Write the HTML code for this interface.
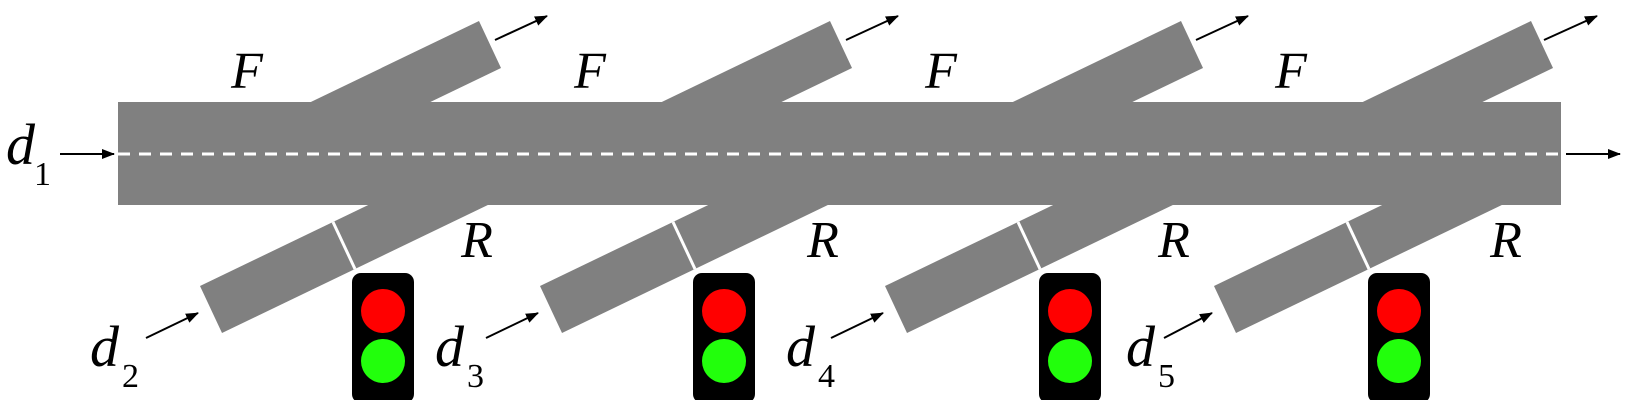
<!DOCTYPE html>
<html><head><style>body{margin:0;background:#fff}svg{display:block}
.t{font-family:"Liberation Serif","DejaVu Serif",serif}</style></head>
<body>
<svg width="1633" height="400" viewBox="0 0 1633 400" xmlns="http://www.w3.org/2000/svg">
<defs>
<marker id="ah" markerWidth="13" markerHeight="10" refX="12" refY="5" orient="auto" markerUnits="userSpaceOnUse">
<path d="M0,0 L13,5 L0,10 z" fill="#000"/></marker>
<g id="up"><polygon points="479,21 501,68 231,198 209,151" fill="#808080"/></g>
<g id="lo"><polygon points="200,286 222,333 492,203 470,156" fill="#808080"/>
<line x1="333" y1="222" x2="355" y2="269" stroke="#fff" stroke-width="3"/></g>
<g id="tl"><rect x="0" y="273" width="62" height="130" rx="9" fill="#000"/>
<circle cx="31" cy="311" r="22" fill="#ff0000"/><circle cx="31" cy="361" r="22" fill="#22ff0c"/></g>
</defs>
<use href="#up"/><use href="#up" x="351"/><use href="#up" x="702"/><use href="#up" x="1052"/>
<use href="#lo"/><use href="#lo" x="340"/><use href="#lo" x="685"/><use href="#lo" x="1014"/>
<rect x="118" y="102" width="1443" height="103" fill="#808080"/>
<line x1="118" y1="154" x2="1561" y2="154" stroke="#fff" stroke-width="3" stroke-dasharray="12,9"/>
<use href="#tl" x="352"/><use href="#tl" x="693"/><use href="#tl" x="1039"/><use href="#tl" x="1368"/>
<g stroke="#000" stroke-width="2" marker-end="url(#ah)">
<line x1="60" y1="154" x2="114" y2="154"/>
<line x1="1566" y1="154" x2="1620" y2="154"/>
<line x1="495" y1="40" x2="547" y2="16"/><line x1="846" y1="40" x2="898" y2="16"/>
<line x1="1196" y1="40" x2="1248" y2="16"/><line x1="1544" y1="40" x2="1597" y2="16"/>
<line x1="146" y1="338" x2="198" y2="313"/><line x1="486" y1="338" x2="538" y2="313"/>
<line x1="831" y1="338" x2="883" y2="313"/><line x1="1164" y1="338" x2="1212" y2="313"/>
</g>
<g class="t" font-style="italic" font-size="52" text-anchor="middle" fill="#000">
<text x="247" y="88">F</text><text x="590" y="88">F</text><text x="941" y="88">F</text><text x="1291" y="88">F</text>
<text x="477" y="257">R</text><text x="823" y="257">R</text><text x="1174" y="257">R</text><text x="1506" y="257">R</text>
</g>
<g class="t" font-size="58" fill="#000">
<text x="6" y="164" font-style="italic">d</text><text x="34" y="185" font-size="34">1</text>
<text x="90" y="366" font-style="italic">d</text><text x="122" y="387" font-size="34">2</text>
<text x="435" y="366" font-style="italic">d</text><text x="467" y="387" font-size="34">3</text>
<text x="786" y="366" font-style="italic">d</text><text x="818" y="387" font-size="34">4</text>
<text x="1126" y="366" font-style="italic">d</text><text x="1158" y="387" font-size="34">5</text>
</g>
</svg>
</body></html>
